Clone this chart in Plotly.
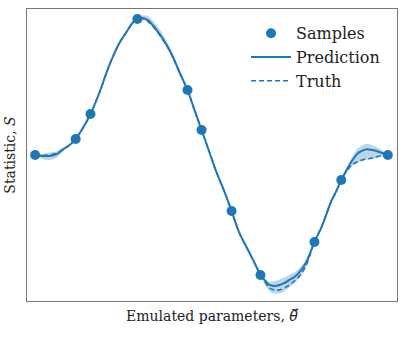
import plotly.graph_objects as go

# Emulated parameter grid (arbitrary units)
theta = [0.0, 0.21, 0.41, 0.61, 0.81, 0.98, 1.15, 1.37, 1.57, 1.83, 2.05, 2.20, 2.39, 2.59, 2.76,
         2.90, 3.05, 3.19, 3.33, 3.53, 3.73, 3.92, 4.09, 4.32, 4.52, 4.72, 4.94, 5.14, 5.37, 5.57,
         5.79, 6.08, 6.25, 6.39, 6.53, 6.64, 6.78, 6.93, 7.07, 7.21, 7.35, 7.52, 7.69, 7.92, 8.12,
         8.40, 8.54, 8.68, 8.85, 8.99, 9.13, 9.28, 9.42, 9.56, 9.76, 10.0]

prediction = [0, -0.007, -0.007, 0.007, 0.044, 0.073, 0.117, 0.204, 0.299, 0.460, 0.620, 0.715,
              0.818, 0.898, 0.964, 0.993, 1.000, 0.985, 0.949, 0.883, 0.803, 0.708, 0.606, 0.474,
              0.328, 0.182, 0.022, -0.124, -0.270, -0.409, -0.569, -0.715, -0.803, -0.876, -0.920,
              -0.949, -0.956, -0.949, -0.934, -0.912, -0.891, -0.847, -0.781, -0.635, -0.526,
              -0.336, -0.263, -0.182, -0.100, -0.040, 0.008, 0.032, 0.042, 0.036, 0.022, 0]

truth = [0, -0.003, 0.0, 0.012, 0.044, 0.073, 0.117, 0.204, 0.299, 0.460, 0.620, 0.715, 0.818,
         0.898, 0.964, 0.993, 0.995, 0.978, 0.942, 0.876, 0.798, 0.705, 0.604, 0.474, 0.328,
         0.182, 0.022, -0.124, -0.270, -0.409, -0.569, -0.715, -0.803, -0.876, -0.934, -0.971,
         -0.985, -0.985, -0.971, -0.949, -0.920, -0.876, -0.803, -0.635, -0.526, -0.336, -0.263,
         -0.182, -0.112, -0.070, -0.051, -0.036, -0.029, -0.022, -0.007, 0]

# Uncertainty above / below prediction
err_hi = [0, 0.015, 0.025, 0.02, 0.012, 0.006, 0, 0.004, 0, 0.008, 0.01, 0.01, 0.01, 0.01, 0.006,
          0, 0.02, 0.03, 0.035, 0.035, 0.03, 0.022, 0.012, 0, 0.004, 0, 0.005, 0.006, 0.005, 0,
          0.006, 0.008, 0.005, 0, 0.015, 0.025, 0.035, 0.04, 0.04, 0.04, 0.035, 0.03, 0.02, 0,
          0.005, 0.005, 0.004, 0, 0.015, 0.025, 0.035, 0.04, 0.04, 0.035, 0.025, 0]
err_lo = [0, 0.022, 0.03, 0.025, 0.012, 0.006, 0, 0.004, 0, 0.008, 0.01, 0.01, 0.01, 0.01, 0.006,
          0, 0.01, 0.012, 0.012, 0.012, 0.01, 0.008, 0.005, 0, 0.004, 0, 0.005, 0.006, 0.005, 0,
          0.006, 0.008, 0.005, 0, 0.03, 0.045, 0.055, 0.06, 0.06, 0.055, 0.045, 0.04, 0.03, 0,
          0.005, 0.005, 0.004, 0, 0.02, 0.04, 0.065, 0.075, 0.075, 0.065, 0.04, 0]

sample_theta = [0.0, 1.15, 1.57, 2.90, 4.32, 4.72, 5.57, 6.39, 7.92, 8.68, 10.0]
sample_S = [0, 0.117, 0.299, 0.993, 0.474, 0.182, -0.409, -0.876, -0.635, -0.182, 0]

upper = [p + e for p, e in zip(prediction, err_hi)]
lower = [p - e for p, e in zip(prediction, err_lo)]

C0 = "#1f77b4"
fig = go.Figure()
fig.add_trace(go.Scatter(x=theta, y=upper, mode="lines", line=dict(width=0, shape="spline"),
                         showlegend=False, hoverinfo="skip"))
fig.add_trace(go.Scatter(x=theta, y=lower, mode="lines", line=dict(width=0, shape="spline"),
                         fill="tonexty", fillcolor="rgba(31,119,180,0.3)", showlegend=False,
                         hoverinfo="skip"))
fig.add_trace(go.Scatter(x=sample_theta, y=sample_S, mode="markers", name="Samples",
                         marker=dict(color=C0, size=10)))
fig.add_trace(go.Scatter(x=theta, y=prediction, mode="lines", name="Prediction",
                         line=dict(color=C0, width=2, shape="spline")))
fig.add_trace(go.Scatter(x=theta, y=truth, mode="lines", name="Truth",
                         line=dict(color=C0, width=1.6, dash="5px,3px", shape="spline")))

axis_common = dict(showgrid=False, zeroline=False, showticklabels=False, ticks="",
                   showline=True, linecolor="#777777", linewidth=1.3, mirror=True)
fig.update_layout(
    width=405, height=337,
    margin=dict(l=27, r=8, t=9, b=36),
    paper_bgcolor="white", plot_bgcolor="white",
    font=dict(family="DejaVu Serif", size=13, color="#222222"),
    xaxis=dict(range=[-0.23, 10.26],
               title=dict(text="Emulated parameters, <span style=\"font-family:'DejaVu Sans'\"><i>θ⃗</i></span>",
                          standoff=10, font=dict(size=14)), **axis_common),
    yaxis=dict(range=[-1.066, 1.066], title=dict(text="Statistic, <i>S</i>",
               standoff=6, font=dict(size=14)), **axis_common),
    legend=dict(x=0.592, y=0.975, xanchor="left", yanchor="top", bgcolor="rgba(0,0,0,0)",
                font=dict(family="DejaVu Serif", size=16, color="#222222"),
                traceorder="normal", itemwidth=40, tracegroupgap=0),
    shapes=[dict(type="line", xref="paper", yref="paper", x0=1.063, y0=-0.11, x1=1.045, y1=-0.16,
                 line=dict(color="black", width=1.5))],
)
fig.write_html("out.html")
